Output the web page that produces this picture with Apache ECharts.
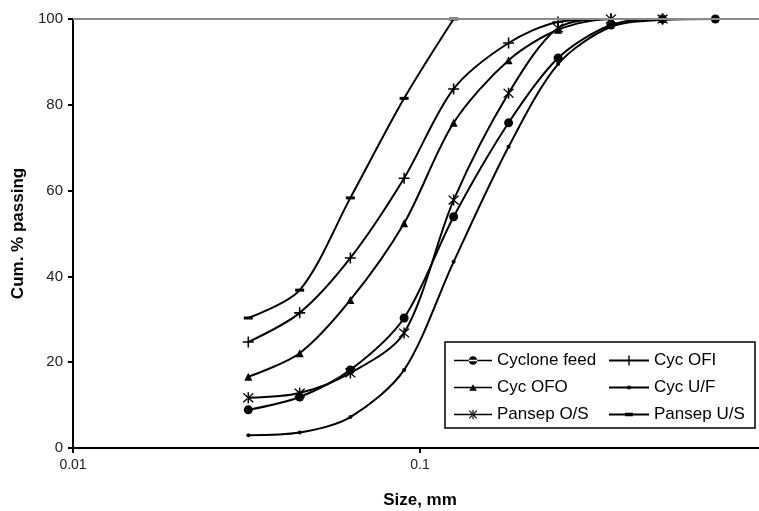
<!DOCTYPE html>
<html>
<head>
<meta charset="utf-8">
<style>
  html, body { margin: 0; padding: 0; background: #fff; }
  #chart { width: 759px; height: 511px; }
</style>
<script src="https://cdn.jsdelivr.net/npm/echarts@6/dist/echarts.min.js"></script>
</head>
<body>
<div id="chart"></div>
<script>
// sieve sizes, mm
const sizes = [0.032, 0.045, 0.063, 0.09, 0.125, 0.18, 0.25, 0.355, 0.5, 0.71];

// cumulative % passing for each stream
const cycloneFeed = [8.9, 11.9, 18.2, 30.3, 53.9, 75.8, 90.9, 98.6, 100, 100];
const cycOFI      = [24.7, 31.5, 44.3, 62.9, 83.7, 94.4, 99.3, 100, 100];
const cycOFO      = [16.6, 22.1, 34.5, 52.4, 75.8, 90.4, 97.5, 100, 100];
const cycUF       = [3.0, 3.6, 7.2, 18.2, 43.4, 70.2, 89.5, 98.2, 99.8, 100];
const pansepOS    = [11.7, 12.8, 17.5, 26.8, 57.8, 82.7, 97.9, 100, 100];
const pansepUS    = [30.3, 36.8, 58.3, 81.5, 100];

const yTicks = [0, 20, 40, 60, 80, 100];

const plusPath = 'path://M4.3,0H5.7V10H4.3Z M0,4.3H10V5.7H0Z';
const starPath = 'path://M4.4,0H5.6V10H4.4Z M0.6,1.4L1.4,0.6L9.4,8.6L8.6,9.4Z M9.4,1.4L8.6,0.6L0.6,8.6L1.4,9.4Z';

// legend icons drawn as line + marker in a 40x10 box (corner points keep the box size)
const box = 'M0,0L0,0Z M40,10L40,10Z ';
const lineBar = 'M0,4.1H40V5.9H0Z ';
const legendIcons = {
  'Cyclone feed': 'path://' + box + lineBar + 'M15.5,5A4.5,4.5 0 1,0 24.5,5A4.5,4.5 0 1,0 15.5,5Z',
  'Cyc OFI': 'path://' + box + lineBar + 'M19.3,0H20.7V10H19.3Z',
  'Cyc OFO': 'path://' + box + lineBar + 'M16,8.5L20,1.5L24,8.5Z',
  'Cyc U/F': 'path://' + box + lineBar + 'M18.3,3.3H21.7V6.7H18.3Z',
  'Pansep O/S': 'path://' + box + lineBar + 'M19.4,0H20.6V10H19.4Z M15.6,1.4L16.4,0.6L24.4,8.6L23.6,9.4Z M24.4,1.4L23.6,0.6L15.6,8.6L16.4,9.4Z',
  'Pansep U/S': 'path://' + box + lineBar + 'M16,3.2H24V6.8H16Z'
};

function pairs(vals) {
  return vals.map((v, i) => [sizes[i], v]);
}

function lineSeries(name, vals, symbol, size) {
  return {
    name: name,
    type: 'line',
    data: pairs(vals),
    smooth: 0.3,
    z: 3,
    symbol: symbol,
    symbolSize: size,
    showAllSymbol: true,
    lineStyle: { color: '#000', width: 2 },
    itemStyle: { color: '#000', borderWidth: 0 },
    emphasis: { disabled: true }
  };
}

function legendData(names) {
  return names.map(n => ({ name: n, icon: legendIcons[n] }));
}

const chart = echarts.init(document.getElementById('chart'));

const labelFont = { fontFamily: 'Liberation Sans, Arial, sans-serif', color: '#222' };

const option = {
  animation: false,
  backgroundColor: '#fff',
  grid: { left: 73, top: 19, width: 694, height: 429, outerBoundsMode: 'none' },
  xAxis: {
    type: 'log',
    logBase: 10,
    min: 0.01,
    max: 1,
    name: 'Size, mm',
    nameLocation: 'middle',
    nameGap: 44,
    nameTextStyle: { ...labelFont, color: '#000', fontSize: 17, fontWeight: 'bold' },
    axisLine: { lineStyle: { color: '#000', width: 2 } },
    axisTick: { show: true, length: 5, lineStyle: { color: '#000', width: 2 } },
    minorTick: { show: false },
    splitLine: { show: false },
    axisLabel: {
      ...labelFont, fontSize: 14, margin: 10,
      formatter: v => String(v)
    }
  },
  yAxis: {
    type: 'value',
    min: 0,
    max: 100,
    interval: 20,
    name: 'Cum. % passing',
    nameLocation: 'middle',
    nameGap: 41,
    nameTextStyle: { ...labelFont, color: '#000', fontSize: 17, fontWeight: 'bold' },
    axisLine: { show: true, lineStyle: { color: '#000', width: 2 } },
    axisTick: { show: true, length: 5, lineStyle: { color: '#000', width: 2 } },
    splitLine: { show: false },
    axisLabel: {
      ...labelFont, fontSize: 15, margin: 10,
      formatter: v => (yTicks.includes(v) ? String(v) : '')
    }
  },
  legend: [
    {
      left: 449, top: 347, orient: 'vertical', z: 10,
      itemWidth: 38, itemHeight: 10, itemGap: 10,
      textStyle: { ...labelFont, color: '#000', fontSize: 17 },
      itemStyle: { color: '#000' },
      data: legendData(['Cyclone feed', 'Cyc OFO', 'Pansep O/S'])
    },
    {
      left: 604, top: 347, orient: 'vertical', z: 10,
      itemWidth: 40, itemHeight: 10, itemGap: 10,
      textStyle: { ...labelFont, color: '#000', fontSize: 17 },
      itemStyle: { color: '#000' },
      data: legendData(['Cyc OFI', 'Cyc U/F', 'Pansep U/S'])
    }
  ],
  graphic: [
    {
      type: 'rect',
      shape: { x: 445, y: 342, width: 310, height: 86 },
      style: { fill: '#fff', stroke: '#000', lineWidth: 1.5 },
      z: 5
    }
  ],
  series: [
    {
      type: 'line',
      data: [],
      z: 1,
      silent: true,
      markLine: {
        silent: true,
        symbol: 'none',
        label: { show: false },
        lineStyle: { color: '#8a8a8a', width: 2, type: 'solid' },
        data: [{ yAxis: 100 }]
      }
    },
    lineSeries('Cyclone feed', cycloneFeed, 'circle', 9),
    lineSeries('Cyc OFI', cycOFI, plusPath, 11),
    lineSeries('Cyc OFO', cycOFO, 'triangle', 8),
    lineSeries('Cyc U/F', cycUF, 'circle', 4),
    lineSeries('Pansep O/S', pansepOS, starPath, 11),
    lineSeries('Pansep U/S', pansepUS, 'rect', [9, 3])
  ]
};

chart.setOption(option);
</script>
</body>
</html>
